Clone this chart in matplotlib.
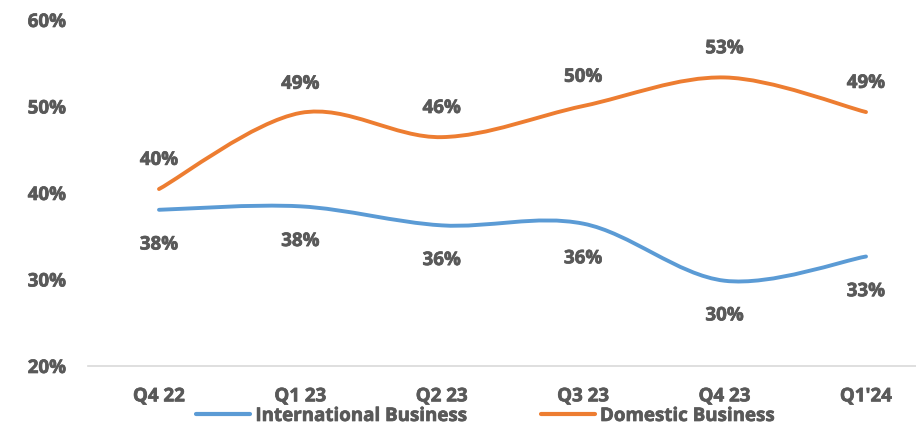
import numpy as np
import matplotlib
matplotlib.use("Agg")
import matplotlib.pyplot as plt
import matplotlib.patheffects as pe
from matplotlib.path import Path
from matplotlib.patches import PathPatch
from matplotlib.lines import Line2D
from matplotlib.ticker import PercentFormatter

# data
quarters = ["Q4 22", "Q1 23", "Q2 23", "Q3 23", "Q4 23", "Q1'24"]
international = [38.0, 38.4, 36.2, 36.4, 29.8, 32.6]
domestic = [40.4, 49.2, 46.4, 50.0, 53.3, 49.3]

blue = "#5B9BD5"
orange = "#ED7D31"
grey = "#595959"

plt.rcParams['font.family'] = ['Open Sans', 'DejaVu Sans']
plt.rcParams['font.weight'] = 'bold'
fs = 13.5
heavy = [pe.withStroke(linewidth=0.5, foreground=grey)]  # segoe bold is a bit heavier


# bezier path through the points, like excel's smoothed line
def smooth_path(xs, ys):
    pts = np.column_stack([xs, ys]).astype(float)
    n = len(pts)
    tang = np.zeros_like(pts)
    for i in range(n):
        a = pts[max(i - 1, 0)]
        b = pts[min(i + 1, n - 1)]
        tang[i] = (b - a) / 6.0
    verts = [pts[0]]
    codes = [Path.MOVETO]
    for i in range(n - 1):
        verts += [pts[i] + tang[i], pts[i + 1] - tang[i + 1], pts[i + 1]]
        codes += [Path.CURVE4] * 3
    return Path(verts, codes)


fig = plt.figure(figsize=(9.16, 4.27), dpi=100)
ax = fig.add_axes([88.3 / 916, 1 - 366.5 / 427, (916 - 88.3) / 916, (366.5 - 20.5) / 427])

x = np.arange(len(quarters))
for vals, col, off in [(international, blue, -25), (domestic, orange, 21)]:
    ax.add_patch(PathPatch(smooth_path(x, vals), fill=False, edgecolor=col,
                           lw=2.8, capstyle='round', joinstyle='round'))
    for xi, v in zip(x, vals):
        ax.annotate(f"{v:.0f}%", (xi, v), xytext=(0, off), textcoords='offset points',
                    ha='center', va='center', fontsize=fs, color=grey, fontweight='bold',
                    path_effects=heavy)

ax.set_xlim(-0.5, -0.5 + (916 - 88.3) / 141.4)
ax.set_ylim(20, 60)
ax.set_yticks([20, 30, 40, 50, 60])
ax.yaxis.set_major_formatter(PercentFormatter(decimals=0))
ax.set_xticks(x)
ax.set_xticklabels(quarters)

for side in ['top', 'right', 'left']:
    ax.spines[side].set_visible(False)
ax.spines['bottom'].set_color('#D9D9D9')
ax.spines['bottom'].set_linewidth(1.2)
ax.tick_params(axis='both', length=0, labelsize=fs, labelcolor=grey)
ax.tick_params(axis='y', pad=16)
ax.tick_params(axis='x', pad=15)
for lbl in ax.get_xticklabels() + ax.get_yticklabels():
    lbl.set_path_effects(heavy)

handles = [Line2D([], [], color=blue, lw=3, solid_capstyle='round'),
           Line2D([], [], color=orange, lw=3, solid_capstyle='round')]
leg = fig.legend(handles, ["International Business", "Domestic Business"], ncol=2,
                 loc='center', bbox_to_anchor=(485.5 / 916, 1 - 417 / 427), frameon=False,
                 prop={'size': fs, 'weight': 'bold'}, labelcolor=grey,
                 handlelength=2.9, handletextpad=0.27, columnspacing=3.9, borderpad=0)
for t in leg.get_texts():
    t.set_path_effects(heavy)

fig.savefig("out.png", dpi=100)
